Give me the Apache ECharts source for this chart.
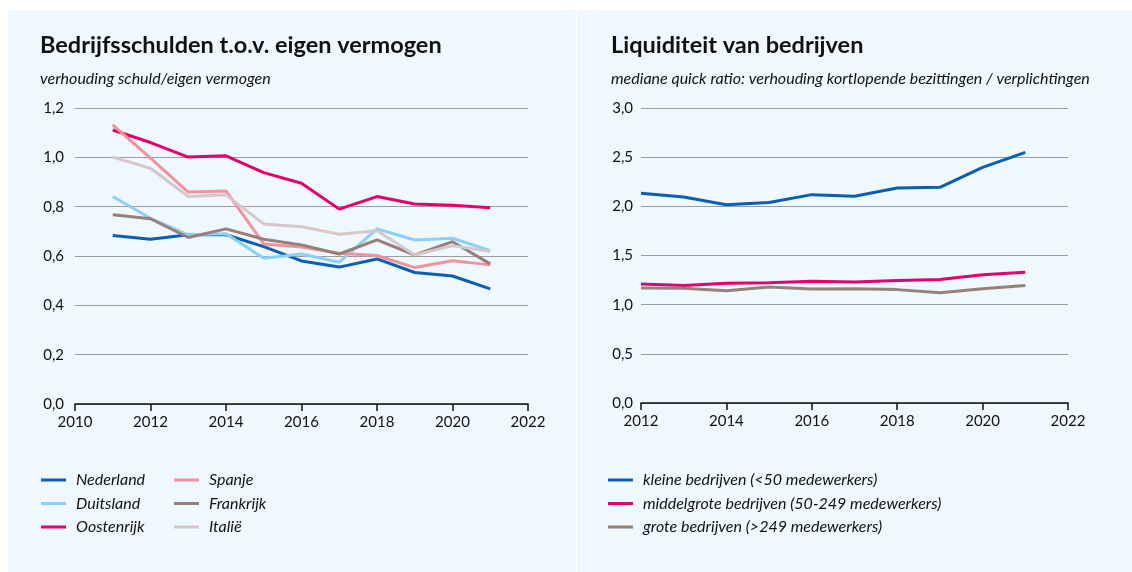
<!DOCTYPE html>
<html lang="nl">
<head>
    <meta charset="UTF-8">
    <script src="https://cdn.jsdelivr.net/npm/echarts@6/dist/echarts.min.js"></script>
    <title>Bedrijfsschulden en liquiditeit</title>
    <style>
        html, body { margin: 0; padding: 0; background: #fff; }
    </style>
</head>
<body>
<div id="main" style="width: 1132px;height:572px;"></div>
<script type="text/javascript">
    // linker grafiek: schuld / eigen vermogen
    var jarenLinks = [2011, 2012, 2013, 2014, 2015, 2016, 2017, 2018, 2019, 2020, 2021];
    var nederland  = [0.683, 0.668, 0.686, 0.686, 0.638, 0.580, 0.555, 0.588, 0.533, 0.519, 0.467];
    var duitsland  = [0.841, 0.753, 0.686, 0.690, 0.591, 0.608, 0.575, 0.710, 0.665, 0.672, 0.622];
    var oostenrijk = [1.111, 1.060, 1.001, 1.006, 0.938, 0.895, 0.790, 0.841, 0.811, 0.806, 0.796];
    var spanje     = [1.132, 0.997, 0.859, 0.864, 0.649, 0.636, 0.611, 0.602, 0.553, 0.581, 0.564];
    var frankrijk  = [0.767, 0.751, 0.675, 0.710, 0.668, 0.645, 0.608, 0.665, 0.604, 0.658, 0.568];
    var italie     = [1.001, 0.956, 0.841, 0.848, 0.730, 0.719, 0.688, 0.702, 0.604, 0.642, 0.618];

    // rechter grafiek: mediane quick ratio
    var jarenRechts = [2012, 2013, 2014, 2015, 2016, 2017, 2018, 2019, 2020, 2021];
    var kleine      = [2.132, 2.095, 2.017, 2.040, 2.119, 2.102, 2.187, 2.193, 2.397, 2.549];
    var middelgrote = [1.210, 1.196, 1.217, 1.224, 1.237, 1.231, 1.247, 1.257, 1.305, 1.329];
    var grote       = [1.170, 1.167, 1.142, 1.180, 1.160, 1.163, 1.153, 1.122, 1.163, 1.196];

    var FONT = 'Lato';
    var BLAUW = '#0b5fb0', LICHTBLAUW = '#8dcff7', ROZE = '#e4006c',
        ZALM = '#f3929f', BRUIN = '#978079', GRIJS = '#d6c8c8';

    function paren(x, y) {
        return x.map(function (j, i) { return [j, y[i]]; });
    }
    function komma(v) {
        return v.toFixed(1).replace('.', ',');
    }
    function lijn(naam, x, y, kleur, as) {
        return {
            name: naam, type: 'line', data: paren(x, y),
            xAxisIndex: as, yAxisIndex: as,
            symbol: 'none', color: kleur,
            lineStyle: {width: 3, color: kleur}
        };
    }

    var asStijl = {
        xAxis: function (idx, min) {
            return {
                gridIndex: idx, type: 'value', min: min, max: 2022, interval: 2,
                axisLine: {lineStyle: {color: '#111', width: 1.5}},
                axisTick: {show: true, length: 7, lineStyle: {color: '#111', width: 1.5}},
                splitLine: {show: false},
                axisLabel: {color: '#111', fontFamily: FONT, fontSize: 15, margin: 11,
                    formatter: function (v) { return String(v); }}
            };
        },
        yAxis: function (idx, max, step, marge) {
            return {
                gridIndex: idx, type: 'value', min: 0, max: max, interval: step,
                axisLine: {show: false}, axisTick: {show: false},
                splitLine: {lineStyle: {color: '#9c9c9c', width: 1}},
                axisLabel: {color: '#111', fontFamily: FONT, fontSize: 15, margin: marge,
                    formatter: komma}
            };
        }
    };

    var legendTekst = {color: '#111', fontFamily: FONT, fontSize: 16, fontStyle: 'italic',
        lineHeight: 16, padding: [0, 0, 0, 5]};

    var myChart = echarts.init(document.getElementById('main'));

    var option = {
        backgroundColor: '#ffffff',
        animation: false,
        graphic: [
            {type: 'rect', z: -10, shape: {x: 8, y: 10, width: 568, height: 562}, style: {fill: '#eef8fe'}},
            {type: 'rect', z: -10, shape: {x: 577, y: 10, width: 555, height: 562}, style: {fill: '#eef8fe'}}
        ],
        title: [
            {text: 'Bedrijfsschulden t.o.v. eigen vermogen', left: 40, top: 33, padding: 0,
                textStyle: {fontFamily: FONT, fontSize: 23.5, fontWeight: 'bold', color: '#111'}},
            {text: 'verhouding schuld/eigen vermogen', left: 40, top: 71, padding: 0,
                textStyle: {fontFamily: FONT, fontSize: 16, fontStyle: 'italic', fontWeight: 'normal', color: '#111'}},
            {text: 'Liquiditeit van bedrijven', left: 611, top: 33, padding: 0,
                textStyle: {fontFamily: FONT, fontSize: 23.5, fontWeight: 'bold', color: '#111'}},
            {text: 'mediane quick ratio: verhouding kortlopende bezittingen / verplichtingen', left: 611, top: 71, padding: 0,
                textStyle: {fontFamily: FONT, fontSize: 16, fontStyle: 'italic', fontWeight: 'normal', color: '#111'}}
        ],
        legend: [
            {data: ['Nederland', 'Duitsland', 'Oostenrijk'], orient: 'vertical', left: 41, top: 472, padding: 0,
                icon: 'rect', itemWidth: 25, itemHeight: 3, itemGap: 7.5, textStyle: legendTekst},
            {data: ['Spanje', 'Frankrijk', 'Italië'], orient: 'vertical', left: 174, top: 472, padding: 0,
                icon: 'rect', itemWidth: 25, itemHeight: 3, itemGap: 7.5, textStyle: legendTekst},
            {data: ['kleine bedrijven (<50 medewerkers)', 'middelgrote bedrijven (50-249 medewerkers)',
                    'grote bedrijven (>249 medewerkers)'],
                orient: 'vertical', left: 608, top: 472, padding: 0,
                icon: 'rect', itemWidth: 25, itemHeight: 3, itemGap: 7.5, textStyle: legendTekst}
        ],
        grid: [
            {left: 75, top: 108, width: 453, height: 296},
            {left: 641, top: 108, width: 427, height: 295}
        ],
        xAxis: [asStijl.xAxis(0, 2010), asStijl.xAxis(1, 2012)],
        yAxis: [asStijl.yAxis(0, 1.2, 0.2, 11), asStijl.yAxis(1, 3, 0.5, 8)],
        series: [
            lijn('Nederland', jarenLinks, nederland, BLAUW, 0),
            lijn('Duitsland', jarenLinks, duitsland, LICHTBLAUW, 0),
            lijn('Oostenrijk', jarenLinks, oostenrijk, ROZE, 0),
            lijn('Spanje', jarenLinks, spanje, ZALM, 0),
            lijn('Frankrijk', jarenLinks, frankrijk, BRUIN, 0),
            lijn('Italië', jarenLinks, italie, GRIJS, 0),
            lijn('kleine bedrijven (<50 medewerkers)', jarenRechts, kleine, BLAUW, 1),
            lijn('middelgrote bedrijven (50-249 medewerkers)', jarenRechts, middelgrote, ROZE, 1),
            lijn('grote bedrijven (>249 medewerkers)', jarenRechts, grote, BRUIN, 1)
        ]
    };

    myChart.setOption(option);
</script>
</body>
</html>
